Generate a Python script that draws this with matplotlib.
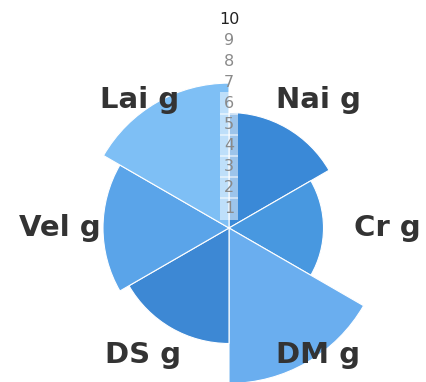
import numpy as np
import matplotlib
matplotlib.use("Agg")
import matplotlib.pyplot as plt

# data
categories = ["Nai g", "Cr g", "DM g", "DS g", "Vel g", "Lai g"]
values = [5.5, 4.5, 7.4, 5.5, 6.0, 6.9]
colors = ["#3a89d7", "#4898e0", "#6aaeef", "#3d88d4", "#5aa4e9", "#7ebff5"]
rticks = [1, 2, 3, 4, 5, 6, 7, 8, 9, 10]


def plot(output):
    fig = plt.figure(figsize=(4.27, 3.82), dpi=100)
    # polar box placed so the centre sits at (229, 228) px, 21 px per unit
    ax = fig.add_axes([19 / 427, -56 / 382, 420 / 427, 420 / 382],
                      projection="polar")
    ax.set_theta_zero_location("N")
    ax.set_theta_direction(-1)

    n = len(categories)
    width = 2 * np.pi / n
    lefts = np.arange(n) * width
    ax.bar(lefts, values, width=width, align="edge", color=colors,
           edgecolor="white", linewidth=0.8)

    ax.set_ylim(0, 10)
    ax.grid(False)
    ax.set_xticks([])
    ax.set_yticks([])
    ax.spines["polar"].set_visible(False)
    ax.patch.set_alpha(0)

    # radial tick labels along the top
    for r in rticks:
        ax.text(0, r - 0.05, str(r), ha="center", va="center", fontsize=11.5,
                color="#222222" if r == 10 else "#8a8a8a",
                clip_on=False,
                bbox=dict(boxstyle="square,pad=0.25", fc="white",
                          ec="none", alpha=0.5 if r < 7 else 0))

    # category labels
    lab_theta = [35, 90, 145, 214, 270, 325]
    lab_r = [7.45, 7.55, 7.4, 7.3, 8.05, 7.45]
    for name, t, r in zip(categories, lab_theta, lab_r):
        ax.text(np.deg2rad(t), r, name, ha="center", va="center",
                fontsize=21, fontweight="bold", color="#333333",
                clip_on=False)

    fig.savefig(output, dpi=100, facecolor="white")


if __name__ == "__main__":
    plot("out.png")
